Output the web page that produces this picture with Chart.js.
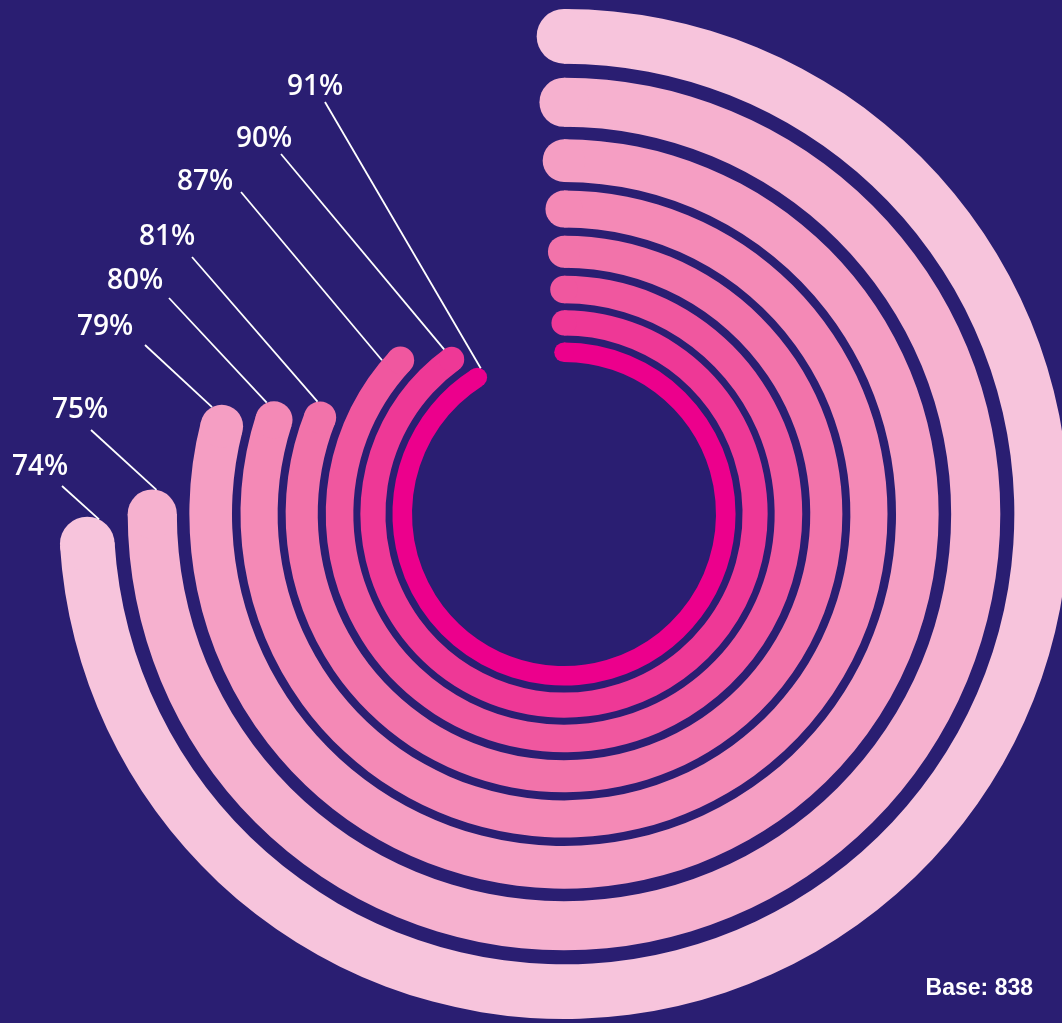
<!DOCTYPE html>
<html>
<head>
<meta charset="utf-8">
<script src="https://cdn.jsdelivr.net/npm/chart.js@4.4.1/dist/chart.umd.min.js"></script>
<style>
  html, body { margin: 0; padding: 0; background: #2a1e72; overflow: hidden; }
  #wrap { position: absolute; left: 0; top: 0; width: 1080px; height: 1023px; }
</style>
</head>
<body>
<div id="wrap"><canvas id="myChart"></canvas></div>
<script>
// values, innermost ring first
const values = [91, 90, 87, 81, 80, 79, 75, 74];
const valueLabels = values.map(v => v + '%');
const baseText = 'Base: 838';

// ring styles, innermost first
const ringColors = ['#ec008c', '#ee3896', '#f0579f', '#f273aa', '#f489b6', '#f59ec3', '#f6b1cf', '#f7c4dc'];
const ringWidths = [19.5, 25, 27.5, 32, 37, 42.5, 49, 54.5];
const ringGaps = [7, 7, 8, 8, 8.5, 12.5, 14]; // gap outside ring i

// label layout (text left / baseline, leader line start + direction)
const labelLeft = [287, 236, 177, 139, 107, 77, 52, 12];
const labelBase = [95, 147, 190, 245, 289, 335, 418, 475];
const lineStart = [[325, 102], [281, 154], [241, 192], [192, 257], [169, 298], [145, 345], [91, 430], [62, 486]];
const lineDir = [[155, 265], [162, 194], [140, 167], [125, 144], [98, 105], [68, 63], [69, 63], [40, 36]];

// datasets go outer -> inner in Chart.js, spacers make the navy gaps
const datasets = [];
for (let i = values.length - 1; i >= 0; i--) {
    datasets.push({
        ring: i,
        data: [values[i], 100 - values[i]],
        backgroundColor: [ringColors[i], 'rgba(0,0,0,0)'],
        weight: ringWidths[i],
        borderWidth: 0,
        hoverBorderWidth: 0,
        hoverOffset: 0
    });
    if (i > 0) {
        datasets.push({
            data: [1],
            backgroundColor: ['rgba(0,0,0,0)'],
            weight: ringGaps[i - 1],
            borderWidth: 0,
            hoverBorderWidth: 0,
            hoverOffset: 0
        });
    }
}

function arcGeom(arc) {
    const p = arc.getProps(['x', 'y', 'startAngle', 'endAngle', 'innerRadius', 'outerRadius'], true);
    p.mid = (p.innerRadius + p.outerRadius) / 2;
    p.half = (p.outerRadius - p.innerRadius) / 2;
    return p;
}

// first hit of a ray with a circle
function rayCircle(sx, sy, ux, uy, cx, cy, r) {
    const ox = sx - cx, oy = sy - cy;
    const b = ux * ox + uy * oy;
    const c = ox * ox + oy * oy - r * r;
    const disc = b * b - c;
    if (disc < 0) return null;
    const t = -b - Math.sqrt(disc);
    return t > 0 ? t : null;
}

// round ends of each ring
const roundCaps = {
    id: 'roundCaps',
    afterDatasetDraw(chart, args) {
        const ds = chart.data.datasets[args.index];
        if (ds.ring === undefined) return;
        const g = arcGeom(args.meta.data[0]);
        const ctx = chart.ctx;
        ctx.save();
        ctx.fillStyle = ds.backgroundColor[0];
        [g.startAngle, g.endAngle].forEach(a => {
            ctx.beginPath();
            ctx.arc(g.x + g.mid * Math.cos(a), g.y + g.mid * Math.sin(a), g.half, 0, Math.PI * 2);
            ctx.fill();
        });
        ctx.restore();
    }
};

// value labels with leader lines + base note
const labelsPlugin = {
    id: 'labelsPlugin',
    afterDraw(chart) {
        const ctx = chart.ctx;
        ctx.save();
        chart.data.datasets.forEach((ds, di) => {
            if (ds.ring === undefined) return;
            const i = ds.ring;
            const g = arcGeom(chart.getDatasetMeta(di).data[0]);
            const capX = g.x + g.mid * Math.cos(g.endAngle);
            const capY = g.y + g.mid * Math.sin(g.endAngle);
            const [sx, sy] = lineStart[i];
            const dl = Math.hypot(lineDir[i][0], lineDir[i][1]);
            const ux = lineDir[i][0] / dl, uy = lineDir[i][1] / dl;
            const hits = [];
            const tc = rayCircle(sx, sy, ux, uy, capX, capY, g.half);
            if (tc !== null) hits.push(tc);
            const to = rayCircle(sx, sy, ux, uy, g.x, g.y, g.outerRadius);
            if (to !== null) {
                let a = Math.atan2(sy + uy * to - g.y, sx + ux * to - g.x);
                while (a < g.startAngle) a += Math.PI * 2;
                if (a <= g.endAngle) hits.push(to);
            }
            let t = hits.length ? Math.min(...hits) : (capX - sx) * ux + (capY - sy) * uy;
            ctx.strokeStyle = '#ffffff';
            ctx.lineWidth = 1.8;
            ctx.beginPath();
            ctx.moveTo(sx, sy);
            ctx.lineTo(sx + ux * t, sy + uy * t);
            ctx.stroke();
            ctx.fillStyle = '#ffffff';
            ctx.font = '600 28px "Open Sans", sans-serif';
            ctx.textAlign = 'left';
            ctx.textBaseline = 'alphabetic';
            ctx.fillText(valueLabels[i], labelLeft[i], labelBase[i]);
        });
        ctx.fillStyle = '#ffffff';
        ctx.font = 'bold 23px "Liberation Sans", Arial, sans-serif';
        ctx.textAlign = 'right';
        ctx.fillText(baseText, 1033, 995);
        ctx.restore();
    }
};

const ctx = document.getElementById('myChart').getContext('2d');
const myChart = new Chart(ctx, {
    type: 'doughnut',
    data: { datasets: datasets },
    options: {
        responsive: true,
        maintainAspectRatio: false,
        animation: false,
        events: [],
        rotation: 0,
        circumference: 360,
        cutout: 152,
        radius: 505,
        layout: { padding: { left: 59, top: 9, right: 11, bottom: 4 } },
        plugins: {
            legend: { display: false },
            tooltip: { enabled: false }
        }
    },
    plugins: [roundCaps, labelsPlugin]
});
</script>
</body>
</html>
